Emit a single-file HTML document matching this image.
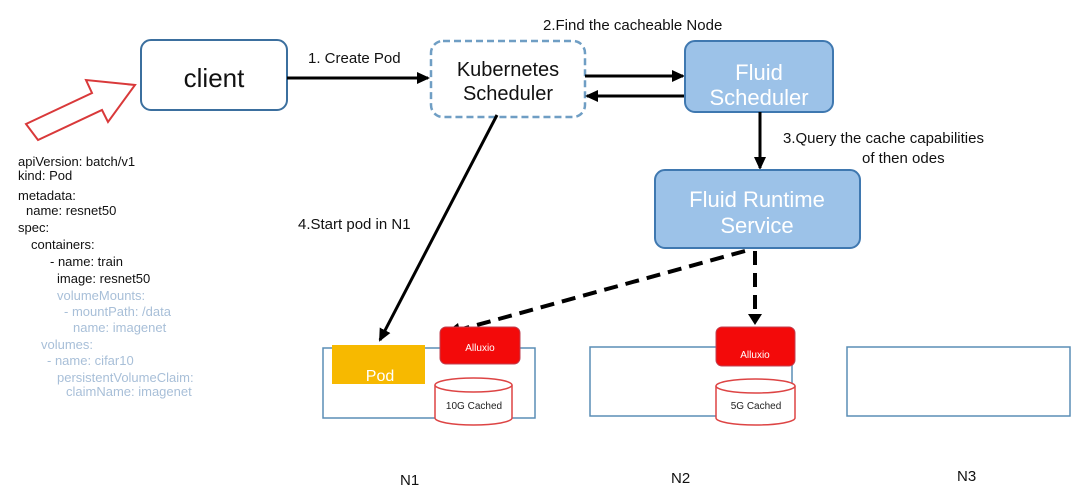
<!DOCTYPE html>
<html><head><meta charset="utf-8"><style>
html,body{margin:0;padding:0;background:#fff;}
svg{display:block;font-family:"Liberation Sans","DejaVu Sans",sans-serif;}
</style></head><body>
<svg width="1080" height="498" viewBox="0 0 1080 498" xmlns="http://www.w3.org/2000/svg">
<defs>
<marker id="ah" markerWidth="14" markerHeight="14" refX="11" refY="7" orient="auto" markerUnits="userSpaceOnUse"><path d="M0,1 L13,7 L0,13 z" fill="#000"/></marker>
</defs>
<rect width="1080" height="498" fill="#fff"/>
<polygon points="26,124 92,93 86,80 135,85 108,122 102,110 38,140" fill="#fff" stroke="#d9393a" stroke-width="2"/>
<rect x="141" y="40" width="146" height="70" rx="10" fill="#fff" stroke="#3b6f9e" stroke-width="2"/>
<text x="214" y="87" font-size="26" text-anchor="middle" fill="#111">client</text>
<line x1="287" y1="78" x2="428" y2="78" stroke="#000" stroke-width="3" marker-end="url(#ah)"/>
<text x="308" y="63" font-size="15" fill="#111">1. Create Pod</text>
<rect x="431" y="41" width="154" height="76" rx="12" fill="#fff" stroke="#6f9ec4" stroke-width="2.5" stroke-dasharray="7,4"/>
<text x="508" y="76" font-size="20" text-anchor="middle" fill="#111">Kubernetes</text>
<text x="508" y="100" font-size="20" text-anchor="middle" fill="#111">Scheduler</text>
<text x="543" y="30" font-size="15" fill="#111">2.Find the cacheable Node</text>
<line x1="585" y1="76" x2="683" y2="76" stroke="#000" stroke-width="3" marker-end="url(#ah)"/>
<line x1="685" y1="96" x2="587" y2="96" stroke="#000" stroke-width="3" marker-end="url(#ah)"/>
<rect x="685" y="41" width="148" height="71" rx="10" fill="#9cc2e8" stroke="#3f78b0" stroke-width="2"/>
<text x="759" y="80" font-size="22" text-anchor="middle" fill="#fff">Fluid</text>
<text x="759" y="105" font-size="22" text-anchor="middle" fill="#fff">Scheduler</text>
<line x1="760" y1="112" x2="760" y2="168" stroke="#000" stroke-width="3" marker-end="url(#ah)"/>
<text x="783" y="143" font-size="15" fill="#111">3.Query the cache capabilities</text>
<text x="862" y="163" font-size="15" fill="#111">of then odes</text>
<rect x="655" y="170" width="205" height="78" rx="10" fill="#9cc2e8" stroke="#3f78b0" stroke-width="2"/>
<text x="757" y="207" font-size="22" text-anchor="middle" fill="#fff">Fluid Runtime</text>
<text x="757" y="233" font-size="22" text-anchor="middle" fill="#fff">Service</text>
<line x1="497" y1="115" x2="380" y2="340" stroke="#000" stroke-width="3" marker-end="url(#ah)"/>
<text x="298" y="229" font-size="15" fill="#111">4.Start pod in N1</text>
<line x1="745" y1="251" x2="448" y2="333" stroke="#000" stroke-width="4" stroke-dasharray="14,8"/>
<polygon points="444,334 458,323 461,335" fill="#000"/>
<line x1="755" y1="251" x2="755" y2="316" stroke="#000" stroke-width="4" stroke-dasharray="14,8"/>
<polygon points="748,314 762,314 755,325" fill="#000"/>
<g font-size="13" fill="#111">
<text x="18" y="166">apiVersion: batch/v1</text>
<text x="18" y="180">kind: Pod</text>
<text x="18" y="200">metadata:</text>
<text x="26" y="215">name: resnet50</text>
<text x="18" y="232">spec:</text>
<text x="31" y="249">containers:</text>
<text x="50" y="266">- name: train</text>
<text x="57" y="283">image: resnet50</text>
<g fill="#a8bfd8">
<text x="57" y="300">volumeMounts:</text>
<text x="64" y="316">- mountPath: /data</text>
<text x="73" y="332">name: imagenet</text>
<text x="41" y="349">volumes:</text>
<text x="47" y="365">- name: cifar10</text>
<text x="57" y="382">persistentVolumeClaim:</text>
<text x="66" y="396">claimName: imagenet</text>
</g></g>
<rect x="323" y="348" width="212" height="70" fill="#fff" stroke="#5a8db5" stroke-width="1.5"/>
<rect x="590" y="347" width="202" height="69" fill="#fff" stroke="#5a8db5" stroke-width="1.5"/>
<rect x="847" y="347" width="223" height="69" fill="#fff" stroke="#5a8db5" stroke-width="1.5"/>
<rect x="332" y="345" width="93" height="39" fill="#f7b900"/>
<text x="380" y="381" font-size="16" text-anchor="middle" fill="#fff">Pod</text>
<rect x="440" y="327" width="80" height="37" rx="6" fill="#f30a0a" stroke="#c04050"/>
<text x="480" y="351" font-size="10" text-anchor="middle" fill="#fff">Alluxio</text>
<rect x="716" y="327" width="79" height="39" rx="6" fill="#f30a0a" stroke="#c04050"/>
<text x="755" y="358" font-size="10" text-anchor="middle" fill="#fff">Alluxio</text>
<g fill="#fff" stroke="#d44" stroke-width="1.5">
<path d="M435,385 L435,418 A38.5,7 0 0 0 512,418 L512,385"/>
<ellipse cx="473.5" cy="385" rx="38.5" ry="7"/>
<path d="M716,386 L716,418 A39.5,7 0 0 0 795,418 L795,386"/>
<ellipse cx="755.5" cy="386" rx="39.5" ry="7"/>
</g>
<text x="474" y="409" font-size="10" text-anchor="middle" fill="#222">10G Cached</text>
<text x="756" y="409" font-size="10" text-anchor="middle" fill="#222">5G Cached</text>
<text x="400" y="485" font-size="15" fill="#111">N1</text>
<text x="671" y="483" font-size="15" fill="#111">N2</text>
<text x="957" y="481" font-size="15" fill="#111">N3</text>
</svg>
</body></html>
